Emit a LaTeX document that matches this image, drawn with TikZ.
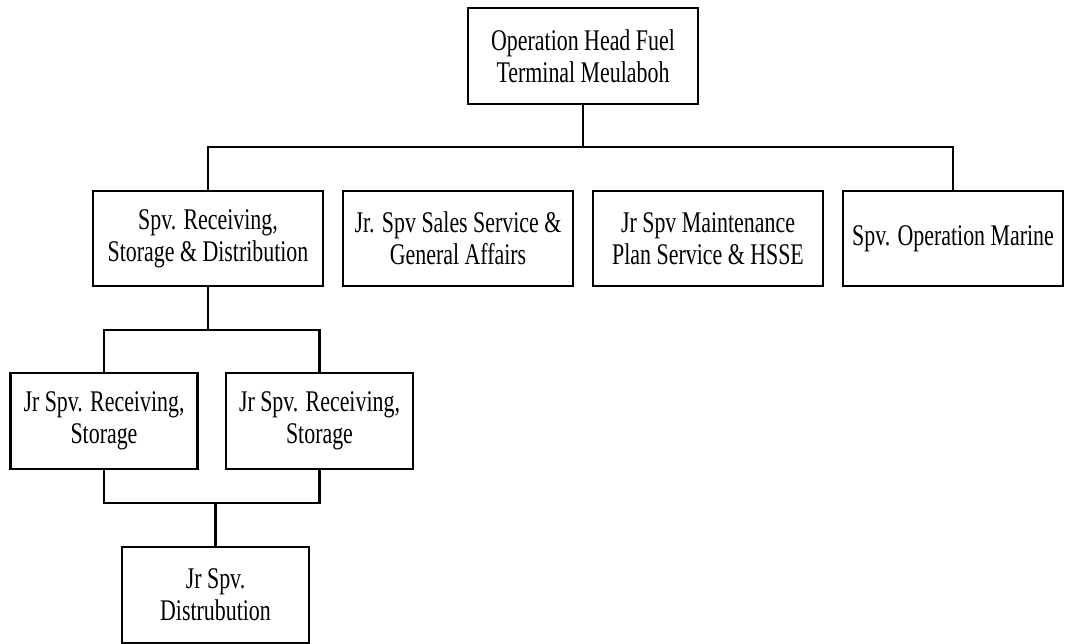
\documentclass[tikz,border=0pt]{standalone}
\usepackage{fontspec}
\setmainfont{Liberation Serif}[FakeStretch=0.73]

\begin{document}
\begin{tikzpicture}[x=1pt, y=-1pt, line width=2.6pt,
    post/.style={draw, align=center, inner sep=0pt, minimum width=230, minimum height=95,
                 font=\fontsize{30}{32}\selectfont},
    subpost/.style={post, minimum width=187}]

  \useasboundingbox (0,0) rectangle (1065,644);

  % kepala
  \node[post, minimum height=96] (head) at (583,56) {Operation Head Fuel\\Terminal Meulaboh};

  % baris kedua
  \node[post] (recv)   at (208,238.5) {Spv. Receiving,\\Storage \& Distribution};
  \node[post] (sales)  at (458,238.5) {Jr. Spv Sales Service \&\\General Affairs};
  \node[post] (maint)  at (708,238.5) {Jr Spv Maintenance\\Plan Service \& HSSE};
  \node[post, minimum width=220] (marine) at (953,238.5) {Spv. Operation Marine};

  % baris ketiga
  \node[subpost, minimum height=96] (recvA) at (104,421) {Jr Spv. Receiving,\\Storage};
  \node[subpost, minimum height=96] (recvB) at (319.5,421) {Jr Spv. Receiving,\\Storage};
  \node[subpost, minimum height=96] (dist)  at (215.5,595) {Jr Spv.\\Distrubution};

  \coordinate (bus1) at (583,147);
  \coordinate (bus2) at (208,330);
  \coordinate (bus3) at (215.5,503);

  \draw (head.south) -- (bus1);
  \draw (recv.north) |- (bus1) -| (marine.north);
  \draw (recv.south) -- (bus2);
  \draw (recvA.north) |- (bus2) -| (recvB.north);
  \draw (recvA.south) |- (bus3) -| (recvB.south);
  \draw (bus3) -- (dist.north);
\end{tikzpicture}
\end{document}
